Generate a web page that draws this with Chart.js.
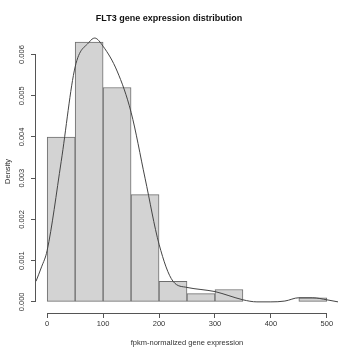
<!DOCTYPE html>
<html>
<head>
<meta charset="utf-8">
<script src="https://cdn.jsdelivr.net/npm/chart.js@4"></script>
<style>
  html, body { margin: 0; padding: 0; background: #fff; }
  #wrap { width: 357px; height: 357px; }
</style>
</head>
<body>
<div id="wrap"><canvas id="histChart" width="357" height="357"></canvas></div>
<script>
// histogram bins (width 50) and densities
const binStarts = [0, 50, 100, 150, 200, 250, 300, 350, 400, 450];
const binDensity = [0.0040, 0.0063, 0.0052, 0.0026, 0.0005, 0.0002, 0.0003, 0.0000, 0.0000, 0.0001];

// density curve (kernel estimate)
const curveX = [-20, -10, 0, 25, 50, 75, 85, 100, 125, 150, 175, 200, 225, 250, 275, 300, 325, 350, 375, 400, 425, 450, 475, 500, 520];
const curveY = [0.00050, 0.00085, 0.00125, 0.0034, 0.0057, 0.0063, 0.0064, 0.0062, 0.0056, 0.0046, 0.0030, 0.0014, 0.0005, 0.00035, 0.0003, 0.00025, 0.00015, 0.00005, 0.0, 0.0, 0.00002, 0.0001, 0.0001, 0.00005, 0.0];

const xTicks = [0, 100, 200, 300, 400, 500];
const yTicks = [0, 0.001, 0.002, 0.003, 0.004, 0.005, 0.006];

const FONT = "'Liberation Sans', Arial, sans-serif";
const binWidth = 50;

// R style axis lines: only between the first and last tick
const rAxisLines = {
  id: 'rAxisLines',
  afterDraw(chart) {
    const ctx = chart.ctx;
    const xs = chart.scales.x, ys = chart.scales.y;
    ctx.save();
    ctx.strokeStyle = '#555';
    ctx.lineWidth = 1;
    ctx.beginPath();
    const xl = xs.getPixelForValue(xTicks[0]), xr = xs.getPixelForValue(xTicks[xTicks.length - 1]);
    ctx.moveTo(xl, xs.top + 0.5);
    ctx.lineTo(xr, xs.top + 0.5);
    const yb = ys.getPixelForValue(yTicks[0]), yt = ys.getPixelForValue(yTicks[yTicks.length - 1]);
    ctx.moveTo(ys.right - 0.5, yb);
    ctx.lineTo(ys.right - 0.5, yt);
    ctx.stroke();
    ctx.restore();
  }
};

new Chart(document.getElementById('histChart').getContext('2d'), {
  type: 'bar',
  data: {
    datasets: [{
      type: 'line',
      label: 'density',
      data: curveX.map((x, i) => ({ x: x, y: curveY[i] })),
      borderColor: '#444',
      borderWidth: 1,
      pointRadius: 0,
      cubicInterpolationMode: 'monotone',
      fill: false,
      order: 0
    }, {
      label: 'histogram',
      data: binStarts.map((s, i) => ({ x: s + binWidth / 2, y: binDensity[i] })),
      backgroundColor: '#d3d3d3',
      borderColor: '#6e6e6e',
      borderWidth: 1,
      borderSkipped: false,
      barPercentage: 1,
      categoryPercentage: 1,
      order: 1
    }]
  },
  options: {
    responsive: false,
    animation: false,
    layout: { padding: { left: 0, right: 19, top: 0, bottom: 0 } },
    plugins: {
      legend: { display: false },
      tooltip: { enabled: false },
      title: {
        display: true,
        text: 'FLT3 gene expression distribution',
        color: '#111',
        font: { family: FONT, size: 9, weight: 'bold' },
        padding: { top: 13, bottom: 6 }
      }
    },
    scales: {
      x: {
        type: 'linear',
        offset: false,
        min: -20,
        max: 520,
        afterBuildTicks: function(scale) {
          scale.ticks = xTicks.map(v => ({ value: v }));
        },
        afterFit: function(scale) { scale.height = 44; },
        border: { display: false },
        grid: { offset: false, drawOnChartArea: false, drawTicks: true, tickLength: 5, color: '#555' },
        ticks: {
          color: '#333',
          font: { family: FONT, size: 7.5 },
          padding: 1,
          maxRotation: 0,
          autoSkip: false
        },
        title: {
          display: true,
          text: 'fpkm-normalized gene expression',
          color: '#333',
          font: { family: FONT, size: 7.5 },
          padding: { top: 0, bottom: 10 }
        }
      },
      y: {
        min: -0.00027,
        max: 0.0066,
        afterBuildTicks: function(scale) {
          scale.ticks = yTicks.map(v => ({ value: v }));
        },
        afterFit: function(scale) { scale.width = 36; },
        border: { display: false },
        grid: { drawOnChartArea: false, drawTicks: true, tickLength: 5, color: '#555' },
        ticks: {
          color: '#333',
          font: { family: FONT, size: 7.5 },
          padding: 0,
          minRotation: 90,
          maxRotation: 90,
          crossAlign: 'center',
          autoSkip: false,
          callback: function(value) { return value.toFixed(3); }
        },
        title: {
          display: true,
          text: 'Density',
          color: '#333',
          font: { family: FONT, size: 7.5 },
          padding: { top: 3, bottom: 0 }
        }
      }
    }
  },
  plugins: [rAxisLines]
});
</script>
</body>
</html>
